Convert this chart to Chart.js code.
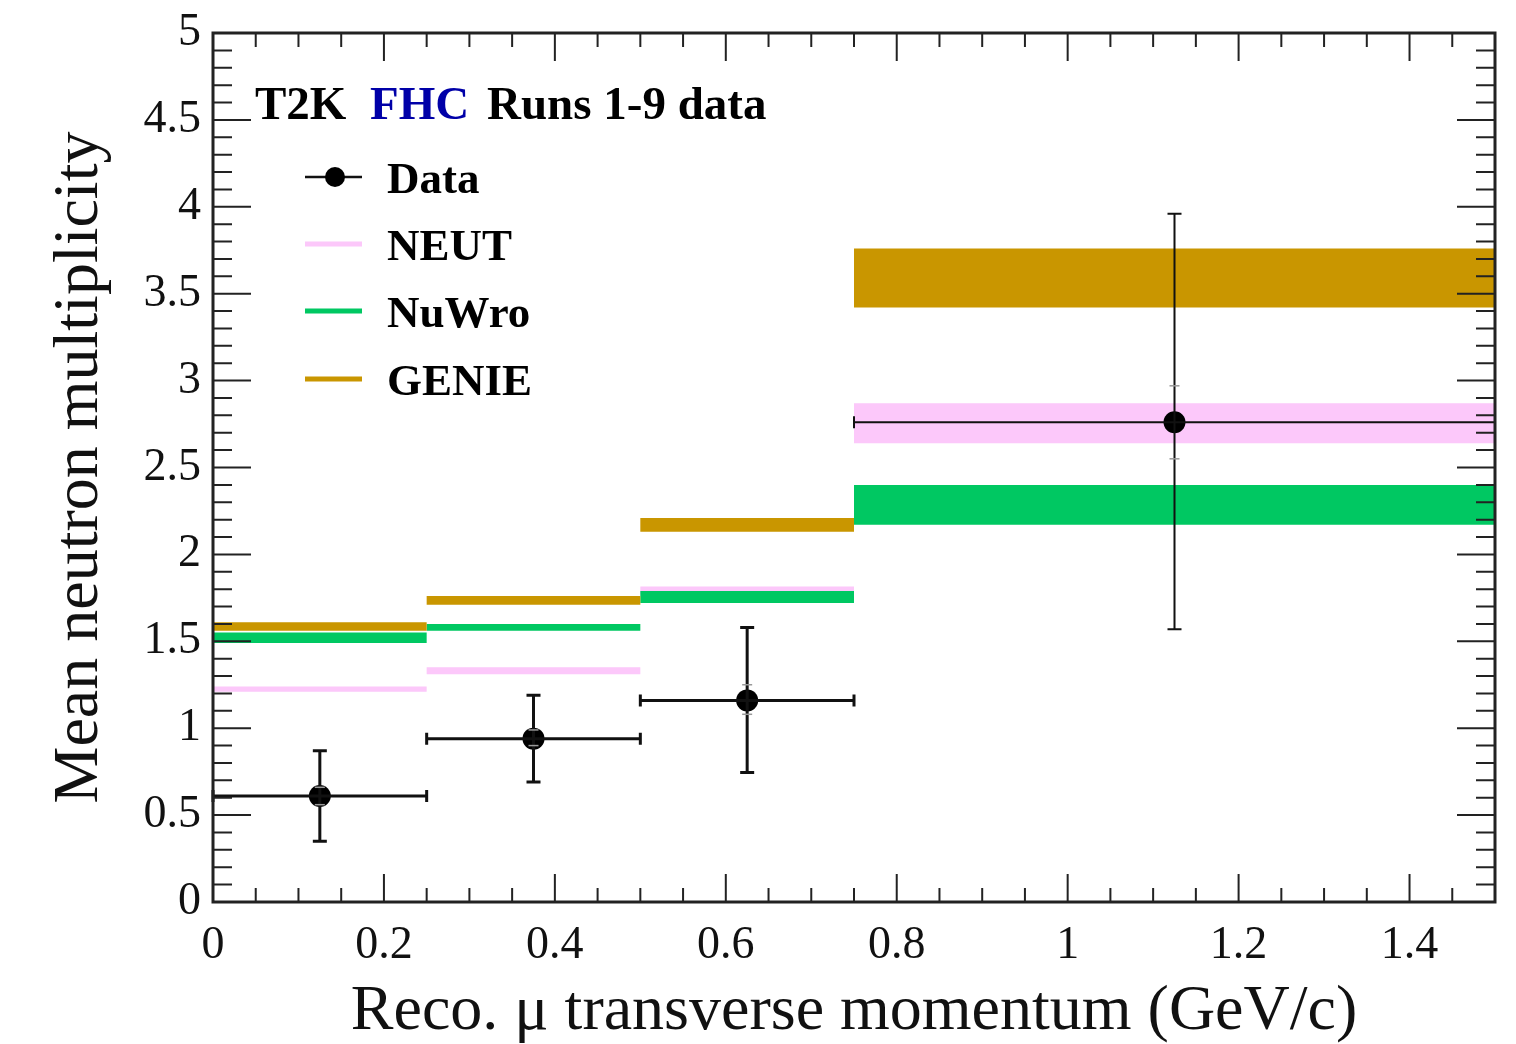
<!DOCTYPE html>
<html lang="en">
<head>
<meta charset="UTF-8">
<title>Mean neutron multiplicity vs reco muon transverse momentum</title>
<script src="https://cdn.jsdelivr.net/npm/chart.js"></script>
<style>
  html, body { margin: 0; padding: 0; background: #fff; }
</style>
</head>
<body>
<canvas id="chart" width="1516" height="1044"></canvas>
<script>
// bin edges (GeV/c) and bin centres for the data points
const binEdges = [0, 0.25, 0.5, 0.75, 1.5];
const binCentres = [0.125, 0.375, 0.625, 1.125];

// data: value, total error range, stat error range
const dataValues = [0.61, 0.94, 1.16, 2.76];
const dataTotLo = [0.35, 0.69, 0.745, 1.57];
const dataTotHi = [0.87, 1.19, 1.58, 3.96];
const dataStatLo = [0.56, 0.90, 1.08, 2.55];
const dataStatHi = [0.66, 0.99, 1.25, 2.97];

// generator predictions, lower / upper edge of each band
const neutLo = [1.21, 1.31, 1.77, 2.64];
const neutHi = [1.24, 1.35, 1.815, 2.87];
const nuwroLo = [1.49, 1.56, 1.72, 2.17];
const nuwroHi = [1.55, 1.60, 1.79, 2.40];
const genieLo = [1.56, 1.71, 2.13, 3.42];
const genieHi = [1.61, 1.76, 2.21, 3.76];

// axis tick labels
const xTicks = [0, 0.2, 0.4, 0.6, 0.8, 1, 1.2, 1.4];
const yTicks = [0, 0.5, 1, 1.5, 2, 2.5, 3, 3.5, 4, 4.5, 5];

const legendNames = ['Data', 'NEUT', 'NuWro', 'GENIE'];

const COL_NEUT = '#fcc8fa';
const COL_NUWRO = '#00c862';
const COL_GENIE = '#c99600';
const SERIF = '"Liberation Serif", "DejaVu Serif", serif';

// one point per bin edge, stepped so each value covers its bin
function steps(vals) {
  return binEdges.map((x, i) => ({ x: x, y: vals[Math.min(i, vals.length - 1)] }));
}

function band(lo, hi, color, order) {
  return [
    { type: 'line', data: steps(lo), stepped: true, pointRadius: 0, borderWidth: 0,
      borderColor: 'rgba(0,0,0,0)', fill: false, order: order },
    { type: 'line', data: steps(hi), stepped: true, pointRadius: 0, borderWidth: 0,
      borderColor: 'rgba(0,0,0,0)', backgroundColor: color, fill: '-1', order: order }
  ];
}

// error bars with caps, total (black) and stat (faint caps)
const errorBars = {
  id: 'errorBars',
  afterDatasetsDraw(chart) {
    const { ctx, scales: { x, y } } = chart;
    ctx.save();
    ctx.strokeStyle = '#111';
    for (let i = 0; i < dataValues.length; i++) {
      const px = x.getPixelForValue(binCentres[i]);
      const py = y.getPixelForValue(dataValues[i]);
      const x0 = x.getPixelForValue(binEdges[i]);
      const x1 = x.getPixelForValue(binEdges[i + 1]);
      const yLo = y.getPixelForValue(dataTotLo[i]);
      const yHi = y.getPixelForValue(dataTotHi[i]);
      ctx.lineWidth = i === 3 ? 2 : 3;
      ctx.beginPath();
      ctx.moveTo(x0, py); ctx.lineTo(x1, py);
      ctx.moveTo(px, yLo); ctx.lineTo(px, yHi);
      // caps
      ctx.moveTo(x0, py - 6); ctx.lineTo(x0, py + 6);
      ctx.moveTo(x1, py - 6); ctx.lineTo(x1, py + 6);
      ctx.moveTo(px - 7, yLo); ctx.lineTo(px + 7, yLo);
      ctx.moveTo(px - 7, yHi); ctx.lineTo(px + 7, yHi);
      ctx.stroke();
    }
    ctx.strokeStyle = '#999';
    ctx.lineWidth = 1.5;
    for (let i = 0; i < dataValues.length; i++) {
      const px = x.getPixelForValue(binCentres[i]);
      [dataStatLo[i], dataStatHi[i]].forEach(v => {
        const py = y.getPixelForValue(v);
        ctx.beginPath();
        ctx.moveTo(px - 5, py); ctx.lineTo(px + 5, py);
        ctx.stroke();
      });
    }
    ctx.restore();
  }
};

// ROOT-like frame with inward ticks on all four sides
const frame = {
  id: 'frame',
  afterDraw(chart) {
    const { ctx, chartArea: a, scales: { x, y } } = chart;
    ctx.save();
    ctx.strokeStyle = '#222';
    ctx.lineWidth = 2;
    ctx.beginPath();
    for (let i = 0; i <= 30; i++) {
      const px = x.getPixelForValue(i * 0.05);
      const len = i % 4 === 0 ? 28 : 14;
      ctx.moveTo(px, a.bottom); ctx.lineTo(px, a.bottom - len);
      ctx.moveTo(px, a.top); ctx.lineTo(px, a.top + len);
    }
    for (let i = 0; i <= 50; i++) {
      const py = y.getPixelForValue(i * 0.1);
      const len = i % 5 === 0 ? 38 : 19;
      ctx.moveTo(a.left, py); ctx.lineTo(a.left + len, py);
      ctx.moveTo(a.right, py); ctx.lineTo(a.right - len, py);
    }
    ctx.stroke();
    ctx.lineWidth = 3;
    ctx.strokeRect(a.left, a.top, a.right - a.left, a.bottom - a.top);
    ctx.restore();
  }
};

// legend and header text inside the frame
const legendBox = {
  id: 'legendBox',
  afterDraw(chart) {
    const { ctx } = chart;
    ctx.save();
    ctx.textBaseline = 'alphabetic';
    ctx.font = 'bold 47px ' + SERIF;
    ctx.fillStyle = '#000';
    ctx.fillText('T2K', 255, 119);
    ctx.fillStyle = '#0000a8';
    ctx.fillText('FHC', 370, 119);
    ctx.fillStyle = '#000';
    ctx.fillText('Runs 1-9 data', 487, 119);

    const rows = [177, 244, 311, 379];
    const cols = [null, COL_NEUT, COL_NUWRO, COL_GENIE];
    ctx.font = 'bold 45px ' + SERIF;
    legendNames.forEach((name, i) => {
      const yy = rows[i];
      if (i === 0) {
        ctx.strokeStyle = '#111';
        ctx.lineWidth = 2.5;
        ctx.beginPath(); ctx.moveTo(305, yy); ctx.lineTo(362, yy); ctx.stroke();
        ctx.fillStyle = '#000';
        ctx.beginPath(); ctx.arc(335, yy, 10, 0, Math.PI * 2); ctx.fill();
      } else {
        ctx.strokeStyle = cols[i];
        ctx.lineWidth = 5;
        ctx.beginPath(); ctx.moveTo(305, yy); ctx.lineTo(362, yy); ctx.stroke();
      }
      ctx.fillStyle = '#000';
      ctx.fillText(name, 387, yy + 16);
    });
    ctx.restore();
  }
};

const ctx = document.getElementById('chart').getContext('2d');

new Chart(ctx, {
  data: {
    datasets: [
      { type: 'scatter', data: binCentres.map((x, i) => ({ x: x, y: dataValues[i] })),
        pointRadius: 11, pointHoverRadius: 11, backgroundColor: '#000', borderWidth: 0, order: 0 },
      ...band(genieLo, genieHi, COL_GENIE, 1),
      ...band(nuwroLo, nuwroHi, COL_NUWRO, 2),
      ...band(neutLo, neutHi, COL_NEUT, 3)
    ]
  },
  options: {
    responsive: false,
    animation: false,
    layout: { padding: { top: 33, right: 21, left: 0, bottom: 0 } },
    plugins: { legend: { display: false }, tooltip: { enabled: false } },
    scales: {
      x: {
        type: 'linear', min: 0, max: 1.5,
        afterBuildTicks: s => { s.ticks = xTicks.map(v => ({ value: v })); },
        afterFit: s => { s.height = 142; },
        grid: { display: false, drawTicks: false },
        border: { display: false },
        ticks: { padding: 16, color: '#111', font: { family: SERIF, size: 46 },
                 maxRotation: 0, callback: v => String(v) },
        title: { display: true, text: 'Reco. μ transverse momentum (GeV/c)', color: '#111',
                 font: { family: SERIF, size: 64, lineHeight: 1 }, padding: { top: 0, bottom: 0 } }
      },
      y: {
        type: 'linear', min: 0, max: 5,
        afterBuildTicks: s => { s.ticks = yTicks.map(v => ({ value: v })); },
        afterFit: s => { s.width = 213; },
        grid: { display: false, drawTicks: false },
        border: { display: false },
        ticks: { padding: 12, color: '#111', font: { family: SERIF, size: 46, lineHeight: 0.9 },
                 callback: v => String(v) },
        title: { display: true, text: 'Mean neutron multiplicity', color: '#111',
                 font: { family: SERIF, size: 64, lineHeight: 1 }, padding: { top: 48, bottom: 0 } }
      }
    }
  },
  plugins: [errorBars, frame, legendBox]
});
</script>
</body>
</html>
